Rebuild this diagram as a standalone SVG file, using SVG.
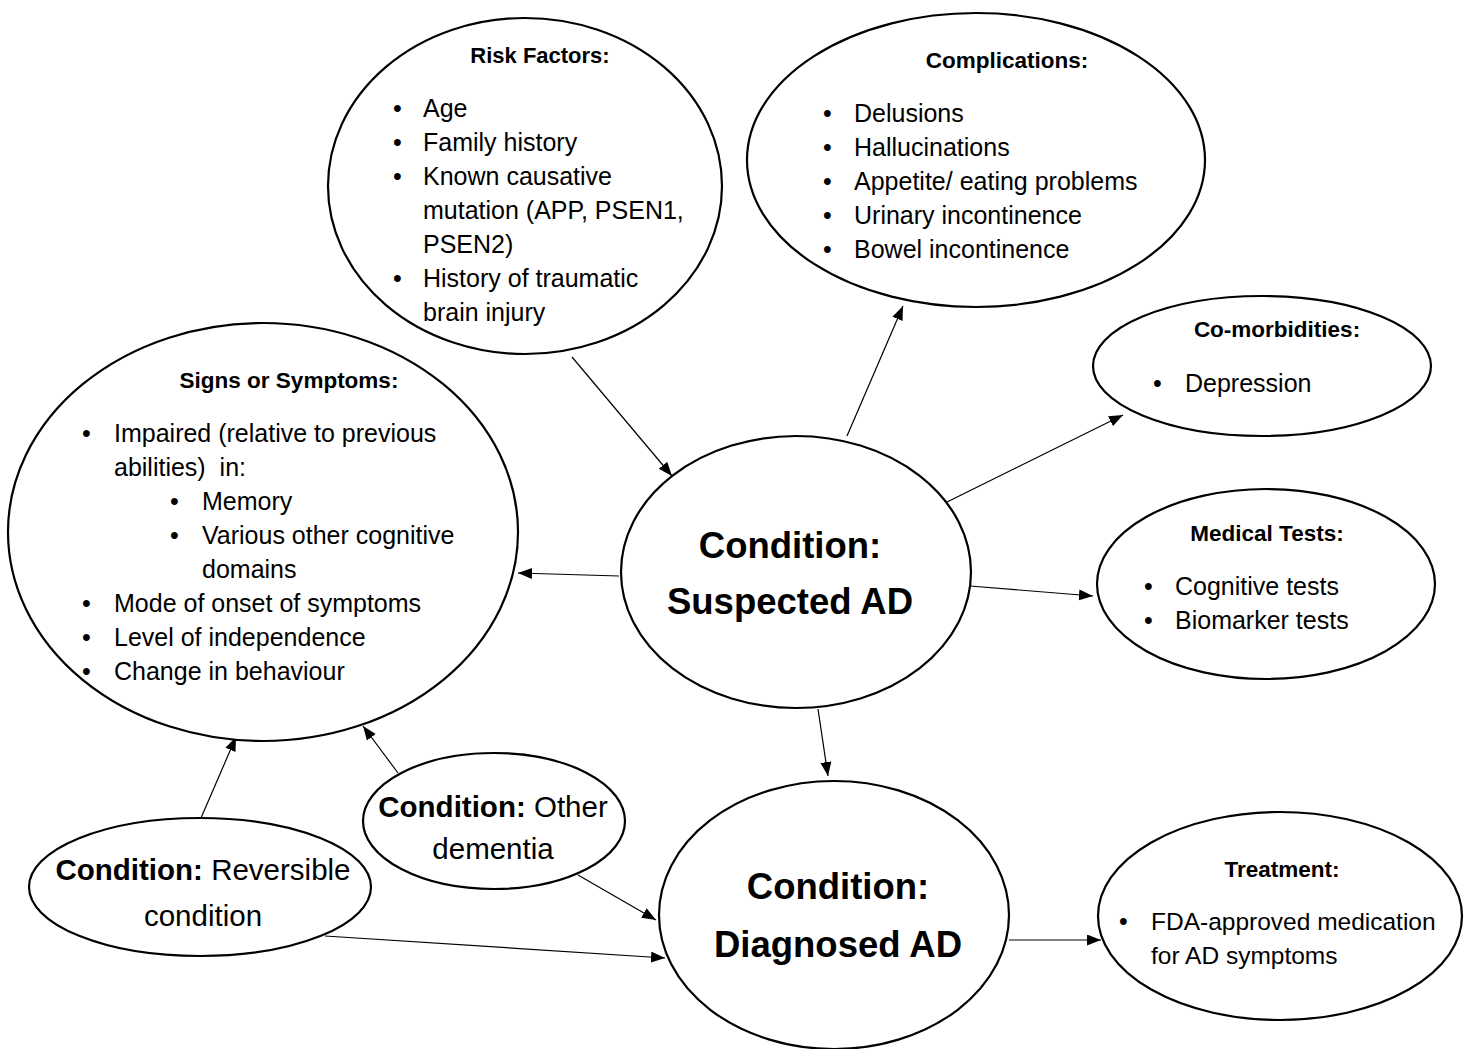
<svg xmlns="http://www.w3.org/2000/svg" width="1467" height="1049" viewBox="0 0 1467 1049">
<style>
  .node { fill: #ffffff; stroke: #000000; stroke-width: 2.2; }
  .edge { fill: none; stroke: #000000; stroke-width: 1.2; }
  text { font-family: "Liberation Sans", Arial, sans-serif; fill: #000000; }
  .t { font-size: 22.5px; font-weight: bold; text-anchor: middle; }
  .b { font-size: 25px; }
  .big { font-size: 36.5px; font-weight: bold; text-anchor: middle; }
  .mid { font-size: 29.5px; text-anchor: middle; }
  .bold { font-weight: bold; }
</style>
<defs>
  <marker id="arr" markerUnits="userSpaceOnUse" markerWidth="15" markerHeight="12" refX="14" refY="5.5" orient="auto">
    <path d="M0,0 L14,5.5 L0,11 z" fill="#000000"/>
  </marker>
</defs>
<rect x="0" y="0" width="1467" height="1049" fill="#ffffff"/>

<g id="connectors">
  <line class="edge" x1="572" y1="357" x2="672" y2="476" marker-end="url(#arr)"/>
  <line class="edge" x1="847" y1="436" x2="903" y2="306" marker-end="url(#arr)"/>
  <line class="edge" x1="945" y1="503" x2="1123" y2="415" marker-end="url(#arr)"/>
  <line class="edge" x1="970" y1="586" x2="1093" y2="596" marker-end="url(#arr)"/>
  <line class="edge" x1="619" y1="576" x2="518" y2="573" marker-end="url(#arr)"/>
  <line class="edge" x1="818" y1="709" x2="828" y2="776" marker-end="url(#arr)"/>
  <line class="edge" x1="201" y1="818" x2="236" y2="737" marker-end="url(#arr)"/>
  <line class="edge" x1="398" y1="773" x2="363" y2="726" marker-end="url(#arr)"/>
  <line class="edge" x1="578" y1="875" x2="656" y2="920" marker-end="url(#arr)"/>
  <line class="edge" x1="325" y1="936" x2="665" y2="958" marker-end="url(#arr)"/>
  <line class="edge" x1="1009" y1="940" x2="1101" y2="940" marker-end="url(#arr)"/>
</g>

<g id="signs-symptoms">
  <ellipse class="node" cx="263" cy="532" rx="255" ry="209"/>
  <text class="t" x="289" y="388">Signs or Symptoms:</text>
  <text class="b" x="82" y="442">•</text><text class="b" x="114" y="442">Impaired (relative to previous</text>
  <text class="b" x="114" y="476" xml:space="preserve">abilities)  in:</text>
  <text class="b" x="170" y="510">•</text><text class="b" x="202" y="510">Memory</text>
  <text class="b" x="170" y="544">•</text><text class="b" x="202" y="544">Various other cognitive</text>
  <text class="b" x="202" y="578">domains</text>
  <text class="b" x="82" y="612">•</text><text class="b" x="114" y="612">Mode of onset of symptoms</text>
  <text class="b" x="82" y="646">•</text><text class="b" x="114" y="646">Level of independence</text>
  <text class="b" x="82" y="680">•</text><text class="b" x="114" y="680">Change in behaviour</text>
</g>

<g id="risk-factors">
  <ellipse class="node" cx="525" cy="186" rx="197" ry="168"/>
  <text class="t" x="540" y="63" style="font-size:22px">Risk Factors:</text>
  <text class="b" x="393" y="117">•</text><text class="b" x="423" y="117">Age</text>
  <text class="b" x="393" y="151">•</text><text class="b" x="423" y="151">Family history</text>
  <text class="b" x="393" y="185">•</text><text class="b" x="423" y="185">Known causative</text>
  <text class="b" x="423" y="219">mutation (APP, PSEN1,</text>
  <text class="b" x="423" y="253">PSEN2)</text>
  <text class="b" x="393" y="287">•</text><text class="b" x="423" y="287">History of traumatic</text>
  <text class="b" x="423" y="321">brain injury</text>
</g>

<g id="complications">
  <ellipse class="node" cx="976" cy="160" rx="229" ry="147"/>
  <text class="t" x="1007" y="68">Complications:</text>
  <text class="b" x="823" y="122">•</text><text class="b" x="854" y="122">Delusions</text>
  <text class="b" x="823" y="156">•</text><text class="b" x="854" y="156">Hallucinations</text>
  <text class="b" x="823" y="190">•</text><text class="b" x="854" y="190">Appetite/ eating problems</text>
  <text class="b" x="823" y="224">•</text><text class="b" x="854" y="224">Urinary incontinence</text>
  <text class="b" x="823" y="258">•</text><text class="b" x="854" y="258">Bowel incontinence</text>
</g>

<g id="co-morbidities">
  <ellipse class="node" cx="1262" cy="366" rx="169" ry="70"/>
  <text class="t" x="1277" y="337">Co-morbidities:</text>
  <text class="b" x="1153" y="392">•</text><text class="b" x="1185" y="392">Depression</text>
</g>

<g id="medical-tests">
  <ellipse class="node" cx="1266" cy="584" rx="169" ry="95"/>
  <text class="t" x="1267" y="541">Medical Tests:</text>
  <text class="b" x="1144" y="595">•</text><text class="b" x="1175" y="595">Cognitive tests</text>
  <text class="b" x="1144" y="629">•</text><text class="b" x="1175" y="629">Biomarker tests</text>
</g>

<g id="suspected-ad">
  <ellipse class="node" cx="796" cy="572" rx="175" ry="136"/>
  <text class="big" x="790" y="558">Condition:</text>
  <text class="big" x="790" y="614">Suspected AD</text>
</g>

<g id="diagnosed-ad">
  <ellipse class="node" cx="834" cy="915" rx="175" ry="134"/>
  <text class="big" x="838" y="899">Condition:</text>
  <text class="big" x="838" y="957">Diagnosed AD</text>
</g>

<g id="treatment">
  <ellipse class="node" cx="1280" cy="916" rx="182" ry="104"/>
  <text class="t" x="1282" y="877">Treatment:</text>
  <text class="b" x="1119" y="930">•</text><text class="b" x="1151" y="930" style="font-size:24.5px">FDA-approved medication</text>
  <text class="b" x="1151" y="964" style="font-size:24.5px">for AD symptoms</text>
</g>

<g id="other-dementia">
  <ellipse class="node" cx="494" cy="821" rx="131" ry="68"/>
  <text class="mid" x="493" y="817"><tspan class="bold">Condition:</tspan> Other</text>
  <text class="mid" x="493" y="859">dementia</text>
</g>

<g id="reversible-condition">
  <ellipse class="node" cx="200" cy="887" rx="171" ry="69"/>
  <text class="mid" x="203" y="880"><tspan class="bold">Condition:</tspan> Reversible</text>
  <text class="mid" x="203" y="926">condition</text>
</g>
</svg>
